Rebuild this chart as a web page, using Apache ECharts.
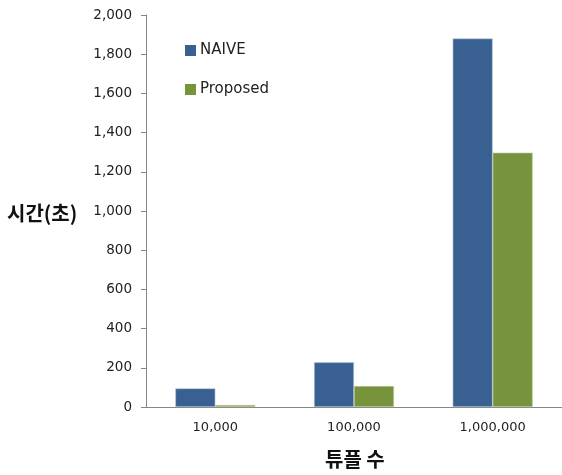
<!DOCTYPE html>
<html>
<head>
<meta charset="utf-8">
<script src="https://cdn.jsdelivr.net/npm/echarts@6/dist/echarts.min.js"></script>
<style>
  html, body { margin: 0; padding: 0; background: #fff; }
  #chart { width: 562px; height: 475px; }
</style>
</head>
<body>
<div id="chart"></div>
<script>
const categories = ['10,000', '100,000', '1,000,000']
const naive = [95, 228, 1880]
const proposed = [10, 107, 1298]
const yTicks = { min: 0, max: 2000, interval: 200 }

const chart = echarts.init(document.getElementById('chart'))

const axisColor = '#868686'
const font = 'DejaVu Sans'

chart.setOption({
  animation: false,
  textStyle: { fontFamily: font },
  legend: {
    orient: 'vertical',
    left: 185,
    top: 43,
    padding: 0,
    itemWidth: 11,
    itemHeight: 11,
    itemGap: 24,
    icon: 'rect',
    itemStyle: { borderWidth: 0 },
    textStyle: { fontSize: 15, color: '#222', fontFamily: font, padding: [0, 0, 0, -1] },
    data: ['NAIVE', 'Proposed']
  },
  grid: {
    left: 146,
    top: 15,
    width: 419,
    height: 392
  },
  xAxis: {
    type: 'category',
    data: categories,
    axisLine: { lineStyle: { color: axisColor } },
    axisTick: { show: false },
    axisLabel: { color: '#222', fontSize: 13, margin: 14, fontFamily: font }
  },
  yAxis: {
    type: 'value',
    min: yTicks.min,
    max: yTicks.max,
    interval: yTicks.interval,
    axisLine: { show: true, lineStyle: { color: axisColor } },
    axisTick: { show: true, length: 5, lineStyle: { color: axisColor } },
    splitLine: { show: false },
    axisLabel: {
      color: '#222',
      fontSize: 13.5,
      margin: 14,
      fontFamily: font,
      formatter: v => v.toLocaleString('en-US')
    }
  },
  series: [
    {
      name: 'NAIVE',
      type: 'bar',
      data: naive,
      barWidth: 40,
      barGap: '0%',
      itemStyle: { color: '#386192', borderColor: '#b9c7dc', borderWidth: 0.6 }
    },
    {
      name: 'Proposed',
      type: 'bar',
      data: proposed,
      barWidth: 40,
      itemStyle: { color: '#77933c', borderColor: '#c5d4a8', borderWidth: 0.6 }
    }
  ],
  graphic: [
    {
      type: 'text',
      left: 7,
      top: 203,
      style: {
        text: '시간(초)',
        font: 'bold 20px "Noto Sans CJK KR"',
        fill: '#111'
      }
    },
    {
      type: 'text',
      left: 325,
      top: 449,
      style: {
        text: '튜플 수',
        font: 'bold 20px "Noto Sans CJK KR"',
        fill: '#111'
      }
    }
  ]
})
</script>
</body>
</html>
